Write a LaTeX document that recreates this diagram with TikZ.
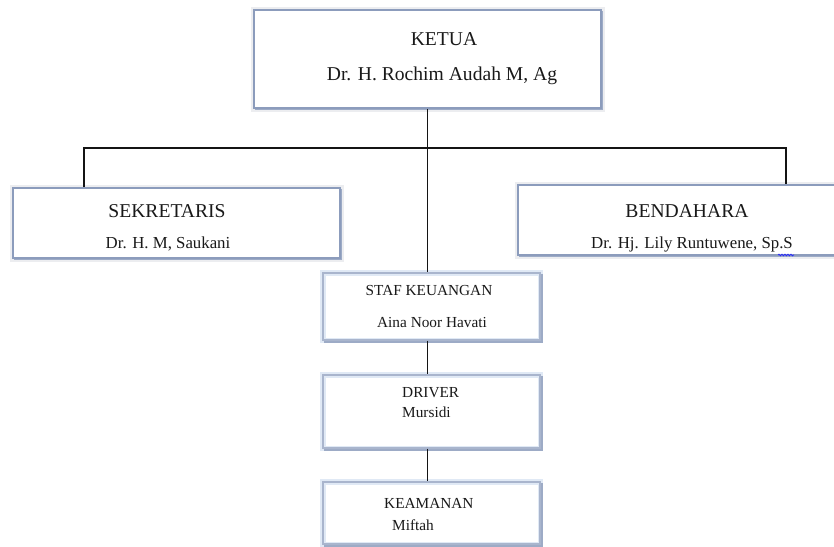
\documentclass[tikz,border=0pt]{standalone}
\usepackage{fontspec}
\setmainfont{Liberation Serif}
\usetikzlibrary{decorations.pathmorphing}
\definecolor{bordc}{RGB}{140,156,188}
\definecolor{haloc}{RGB}{236,237,240}
\definecolor{lblue}{RGB}{224,233,245}
\definecolor{linec}{RGB}{20,20,20}
\tikzset{
  topbox/.style={draw=bordc, line width=1.6pt, fill=white, inner sep=0pt,
    preaction={draw=haloc, line width=7pt},
    preaction={draw=bordc!85, line width=1.6pt, transform canvas={shift={(1.6pt,-1.6pt)}}}},
  lowbox/.style={draw=bordc!75, line width=1.2pt, fill=white, inner sep=0pt,
    minimum width=217pt,
    preaction={draw=lblue, line width=6pt},
    preaction={draw=bordc!85, line width=1.6pt, transform canvas={shift={(1.8pt,-1.8pt)}}},
    path picture={\draw[lblue, line width=5pt] (path picture bounding box.south west) rectangle (path picture bounding box.north east);}},
  conn/.style={draw=linec, line width=1.3pt},
  big/.style={font=\fontsize{19.6}{22}\selectfont, inner sep=0pt, anchor=base, text=black!90},
  mid/.style={font=\fontsize{16.8}{19}\selectfont, inner sep=0pt, anchor=base, text=black!90},
  small/.style={font=\fontsize{15.3}{17}\selectfont, inner sep=0pt, anchor=base, text=black!90},
}
\begin{document}
\begin{tikzpicture}[x=1pt,y=-1pt]
\useasboundingbox (0,0) rectangle (834,546);
\clip (0,0) rectangle (834,546);
% boxes
\node[topbox, minimum width=347pt, minimum height=98pt] (ketua) at (427.5,59) {};
\node[topbox, minimum width=327pt, minimum height=70pt] (sek) at (176.5,223) {};
\node[topbox, minimum width=345pt, minimum height=70pt] (ben) at (690.5,220) {};
\node[lowbox, minimum height=67pt] (staf) at (431.5,306.5) {};
\node[lowbox, minimum height=73pt] (driver) at (431.5,411.5) {};
\node[lowbox, minimum height=62pt] (keam) at (431.5,513) {};
% texts
\node[big] (t1) at (444,45) {KETUA};
\node[big] (t2) at (442,80) {Dr. H. Rochim Audah M, Ag};
\node[big] (t3) at (167,217) {SEKRETARIS};
\node[mid] (t4) at (168,248) {Dr. H. M, Saukani};
\node[big] (t5) at (687,217) {BENDAHARA};
\node[mid] (t6) at (692,248) {Dr. Hj. Lily Runtuwene, Sp.S};
\node[small] (t7) at (429,295) {STAF KEUANGAN};
\node[small] (t8) at (432,327) {Aina Noor Havati};
\node[small, anchor=base west] (t9) at (402,397) {DRIVER};
\node[small, anchor=base west] (t10) at (402,417) {Mursidi};
\node[small, anchor=base west] (t11) at (384,508) {KEAMANAN};
\node[small, anchor=base west] (t12) at (392,530) {Miftah};
% spell-check squiggle
\coordinate (sq1) at (778,255);
\coordinate (sq2) at (794,255);
\draw[blue!85, line width=0.7pt, decorate, decoration={snake, amplitude=0.9pt, segment length=3pt}] (sq1) -- (sq2);
% connectors
\coordinate (hl) at (84,148);
\coordinate (hr) at (786,148);
\path[conn] (ketua.south) -- (ketua.south |- staf.north);
\path[conn] (sek.north -| hl) -- (hl) -- (hr) -- (ben.north -| hr);
\path[conn] (staf.south -| ketua.south) -- (driver.north -| ketua.south);
\path[conn] (driver.south -| ketua.south) -- (keam.north -| ketua.south);
\end{tikzpicture}
\end{document}
